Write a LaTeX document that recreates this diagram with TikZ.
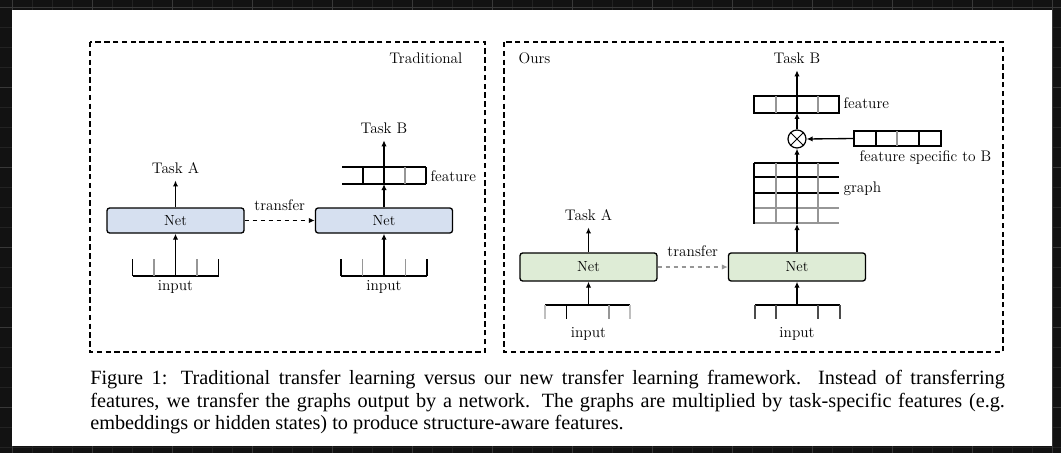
\documentclass[tikz,border=0pt]{standalone}
\usepackage{fontspec}
\usepackage{xcolor}
\usetikzlibrary{arrows.meta, calc, positioning}
\newfontfamily\capfont{Liberation Serif}
\definecolor{netblue}{RGB}{214,224,240}
\definecolor{netgreen}{RGB}{222,236,214}
\definecolor{screendark}{RGB}{18,18,18}
\definecolor{gridminor}{RGB}{34,34,34}
\definecolor{gridmajor}{RGB}{56,56,56}
\definecolor{cellgray}{RGB}{150,150,150}

\tikzset{
    netbox/.style={draw, line width=1pt, rounded corners=2pt, minimum width=102.75pt, font=\fontsize{11}{13}\selectfont},
    lbl/.style={font=\fontsize{11.5}{13}\selectfont, inner sep=1pt},
    arr/.style={line width=1pt, -{Latex[length=4.5pt,width=4pt]}},
    panel/.style={line width=1pt, dash pattern=on 4pt off 2.6pt},
    cell/.style={line width=0.9pt},
}

\begin{document}
\begin{tikzpicture}[x=0.75pt, y=-0.75pt]
    \useasboundingbox (0,0) rectangle (1061,453);

    % Screen around the page
    \fill[screendark] (0,0) rectangle (1061,453);
    \foreach \gx in {12,32,...,1052} \draw[gridminor, line width=0.5pt] (\gx,0) -- (\gx,453);
    \foreach \gy in {7,27,...,447} \draw[gridminor, line width=0.5pt] (0,\gy) -- (1061,\gy);
    \foreach \gx in {12,92,...,1052} \draw[gridmajor, line width=0.6pt] (\gx,0) -- (\gx,453);
    \foreach \gy in {7,87,...,407} \draw[gridmajor, line width=0.6pt] (0,\gy) -- (1061,\gy);
    \fill[white] (12,10) rectangle (1052,446);

    % Panels
    \draw[panel] (90,42) rectangle (485,352);
    \draw[panel] (504,42) rectangle (1003,352);
    \node[lbl, anchor=east] (tradlbl) at (464,58) {Traditional};
    \node[lbl, anchor=west] (ourslbl) at (517,58) {Ours};

    % Traditional: networks
    \node[netbox, fill=netblue, minimum height=18.75pt] (tnetA) at (175.5,220.5) {Net};
    \node[netbox, fill=netblue, minimum height=18.75pt] (tnetB) at (384,220.5) {Net};
    \node[lbl] (ttaskA) at (175.5,168) {Task A};
    \node[lbl] (ttaskB) at (384,128) {Task B};
    \draw[arr, shorten >=4pt] (tnetA.north) -- (ttaskA.south);
    \draw[arr, dashed] (tnetA.east) -- node[lbl, above=6pt] (ttransfer) {transfer} (tnetB.west);

    % Traditional: inputs
    \coordinate (tinA) at (175.5,276);
    \coordinate (tinB) at (384,276);
    \foreach \inp in {tinA, tinB} {
        \draw[cell] ($(\inp)+(-43,0)$) -- ($(\inp)+(43,0)$);
        \foreach \dx/\c in {-43/black, -21.5/cellgray, 21.5/cellgray, 43/black}
            \draw[cell, \c] ($(\inp)+(\dx,0)$) -- ++(0,-17);
    }
    \draw[arr] (tinA) -- (tnetA.south);
    \draw[arr] (tinB) -- (tnetB.south);
    \node[lbl] (tinAlbl) at (175.5,287) {input};
    \node[lbl] (tinBlbl) at (384,287) {input};

    % Traditional: feature
    \coordinate (tfeat) at (384,184);
    \draw[cell] (342,167) -- (426,167) (342,184) -- (426,184);
    \foreach \x/\c in {363/black, 405/cellgray, 426/black}
        \draw[cell, \c] (\x,167) -- (\x,184);
    \node[lbl, anchor=west] (tfeatlbl) at (429,176) {feature};
    \draw[arr] (tnetB.north) -- (tfeat);
    \draw[arr, shorten >=4pt] (tfeat) -- (ttaskB.south);

    % Ours: networks
    \node[netbox, fill=netgreen, minimum height=21pt] (onetA) at (588.5,267) {Net};
    \node[netbox, fill=netgreen, minimum height=21pt] (onetB) at (797,267) {Net};
    \node[lbl] (otaskA) at (588.5,215) {Task A};
    \node[lbl] (otaskB) at (797,58) {Task B};
    \draw[arr, shorten >=4pt] (onetA.north) -- (otaskA.south);
    \draw[arr, dashed, cellgray] (onetA.east) -- node[lbl, above=6pt, black] (otransfer) {transfer} (onetB.west);

    % Ours: inputs
    \coordinate (oinA) at (588.5,305);
    \coordinate (oinB) at (797,305);
    \draw[cell] ($(oinA)+(-43.5,0)$) -- ($(oinA)+(41.5,0)$);
    \foreach \dx/\c in {-43.5/black!25, -22/black, 20.5/cellgray, 41.5/black!25}
        \draw[cell, \c] ($(oinA)+(\dx,0)$) -- ++(0,14);
    \draw[cell] ($(oinB)+(-42,0)$) -- ($(oinB)+(43,0)$);
    \foreach \dx in {-42, -21, 21, 43}
        \draw[cell, black!70] ($(oinB)+(\dx,0)$) -- ++(0,14);
    \draw[arr] (oinA) -- (onetA.south);
    \draw[arr] (oinB) -- (onetB.south);
    \node[lbl] (oinAlbl) at (588.5,334) {input};
    \node[lbl] (oinBlbl) at (797,334) {input};

    % Ours: graph
    \coordinate (ograph) at (797,224);
    \foreach \y/\c in {163/black, 177/black, 193/black, 208/cellgray, 223/cellgray}
        \draw[cell, \c] (754,\y) -- (839,\y);
    \foreach \x/\c in {754/black, 776/cellgray, 818/cellgray}
        \draw[cell, \c] (\x,163) -- (\x,224);
    \node[lbl, anchor=west] (graphlbl) at (842,189) {graph};
    \draw[arr] (onetB.north) -- (ograph);

    % Ours: product with the task-specific feature
    \node[circle, draw, line width=0.9pt, minimum size=13.5pt, inner sep=0pt] (mul) at (797,139) {};
    \draw[line width=0.7pt] (mul.north west) -- (mul.south east) (mul.north east) -- (mul.south west);
    \draw[arr] (ograph) -- (mul.south);
    \coordinate (ospec) at (854,138.5);
    \draw[cell] (854,131) rectangle (941,146);
    \foreach \x/\c in {876/black, 897/cellgray, 919/black}
        \draw[cell, \c] (\x,131) -- (\x,146);
    \node[lbl, anchor=west] (ospeclbl) at (858,158) {feature specific to B};
    \draw[arr] (ospec) -- (mul.east);

    % Ours: feature
    \coordinate (ofeat) at (797,113);
    \draw[cell] (754,96) rectangle (839,113);
    \foreach \x in {776, 818}
        \draw[cell, cellgray] (\x,96) -- (\x,113);
    \node[lbl, anchor=west] (ofeatlbl) at (842,103) {feature};
    \draw[arr] (mul.north) -- (ofeat);
    \draw[arr, shorten >=4pt] (ofeat) -- (otaskB.south);

    % Caption
    \node[anchor=north west, text width=686pt, align=justify, inner sep=0pt,
          font=\capfont\fontsize{15.2}{16.9}\selectfont] (caption) at (90,370)
        {Figure 1: Traditional transfer learning versus our new transfer learning framework. Instead of transferring\linebreak
         features, we transfer the graphs output by a network. The graphs are multiplied by task-specific features (e.g.\linebreak
         embeddings or hidden states) to produce structure-aware features.};
\end{tikzpicture}
\end{document}
